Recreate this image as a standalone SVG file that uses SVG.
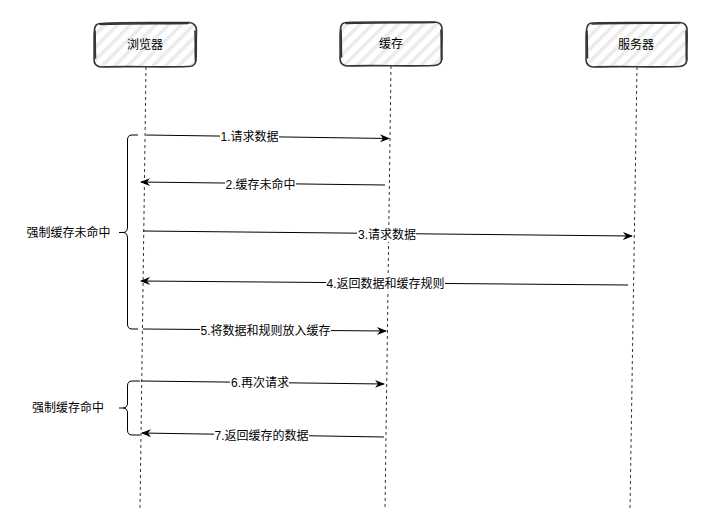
<svg xmlns="http://www.w3.org/2000/svg" width="711" height="510" viewBox="0 0 711 510">
<defs>
<pattern id="hatch" patternUnits="userSpaceOnUse" width="9" height="9" patternTransform="rotate(45)">
<rect width="9" height="9" fill="#ffffff"/>
<rect x="0" y="0" width="3.5" height="9" fill="#ebebeb"/>
</pattern>
<marker id="arr" markerWidth="10" markerHeight="10" refX="9" refY="5" orient="auto" markerUnits="userSpaceOnUse">
<path d="M0,1 L10,5 L0,9 L3,5 Z" fill="#000"/>
</marker>
</defs>
<style>
.box{fill:url(#hatch);stroke:none}
.edge{fill:none;stroke:#333;stroke-width:1.6;stroke-linejoin:round;stroke-linecap:round}
.life{stroke:#333;stroke-width:1;stroke-dasharray:3 3;fill:none}
.msg{stroke:#000;stroke-width:1;fill:none;marker-end:url(#arr)}
.t{font-family:"Liberation Sans","Noto Sans CJK SC",sans-serif;font-size:12px;fill:#000;text-anchor:middle}
.bg{fill:#fff}
.brace{fill:none;stroke:#000;stroke-width:1}
</style>

<g id="lifelines">
<line class="life" x1="146" y1="67" x2="140" y2="510"/>
<line class="life" x1="391" y1="66" x2="385" y2="510"/>
<line class="life" x1="637" y1="67" x2="630" y2="510"/>
</g>

<g id="node-browser">
<rect class="box" x="94" y="23" width="102" height="44" rx="7"/>
<path class="edge" d="M101,23.5 C130,22 165,23 189,22.5 Q196,23 196.5,30 C196,42 196.5,52 196,60 Q195.5,67 188,66.5 C160,67.5 130,66 101,67 Q94,66.5 94,59 C94.5,48 93.5,38 94.5,30 Q95,23 101,23.5 Z"/>
<path class="edge" d="M100,24.5 C135,23.5 160,24 188,23.5 M195,31 C195.5,45 195,55 195.5,61 M95.5,58 C95,46 95.5,38 95,31" stroke-width="1"/>
<text class="t" x="145" y="49">浏览器</text>
</g>

<g id="node-cache">
<rect class="box" x="340" y="22" width="102" height="44" rx="7"/>
<path class="edge" d="M347,22.5 C375,21.5 410,22.5 435,22 Q442,22.5 442,29 C442.5,40 441.5,50 442,58 Q441.5,65.5 434,65.5 C405,66.5 375,65 347,66 Q340,65.5 340,58 C340.5,47 339.5,37 340.5,29 Q341,22 347,22.5 Z"/>
<path class="edge" d="M346,23.5 C380,22.5 410,23 434,22.5 M441,30 C441.5,44 441,54 441.5,60 M341.5,57 C341,45 341.5,37 341,30" stroke-width="1"/>
<text class="t" x="391" y="48">缓存</text>
</g>

<g id="node-server">
<rect class="box" x="586" y="22" width="101" height="45" rx="7"/>
<path class="edge" d="M593,23 C620,22 655,23 680,22.5 Q687,23 687,30 C687.5,41 686.5,51 687,59 Q686.5,66.5 679,66.5 C650,67.5 620,66 593,67 Q586,66.5 586,59 C586.5,48 585.5,38 586.5,30 Q587,22.5 593,23 Z"/>
<path class="edge" d="M592,24 C625,23 655,23.5 679,23 M686,31 C686.5,45 686,55 686.5,61 M587.5,58 C587,46 587.5,38 587,31" stroke-width="1"/>
<text class="t" x="636" y="49">服务器</text>
</g>

<g id="connectors">
<line class="msg" x1="146" y1="135" x2="389" y2="138.5"/>
<line class="msg" x1="385" y1="185" x2="141" y2="182"/>
<line class="msg" x1="143" y1="231" x2="632" y2="236"/>
<line class="msg" x1="628" y1="285" x2="141" y2="281"/>
<line class="msg" x1="143" y1="329" x2="386" y2="331"/>
<line class="msg" x1="141" y1="381" x2="384" y2="384"/>
<line class="msg" x1="384" y1="437" x2="142" y2="433"/>
</g>

<g id="labels">
<rect class="bg" x="220" y="129" width="59" height="15"/>
<text class="t" x="249.5" y="141">1.请求数据</text>
<rect class="bg" x="225" y="177" width="71" height="15"/>
<text class="t" x="260.5" y="189">2.缓存未命中</text>
<rect class="bg" x="357" y="227" width="59" height="15"/>
<text class="t" x="387" y="239">3.请求数据</text>
<rect class="bg" x="326" y="276" width="119" height="15"/>
<text class="t" x="385.5" y="288">4.返回数据和缓存规则</text>
<rect class="bg" x="200" y="323" width="131" height="15"/>
<text class="t" x="265.5" y="335">5.将数据和规则放入缓存</text>
<rect class="bg" x="230" y="375" width="59" height="15"/>
<text class="t" x="260" y="387">6.再次请求</text>
<rect class="bg" x="214" y="428" width="95" height="15"/>
<text class="t" x="261.5" y="440">7.返回缓存的数据</text>
</g>

<g id="brace-miss">
<path class="brace" d="M138,135 H132 Q127.5,135 127.5,140 V227 Q127.5,232.5 123,232.5 H119 M123,232.5 Q127.5,232.5 127.5,238 V324 Q127.5,329 132,329 H138"/>
<text class="t" x="68.5" y="237">强制缓存未命中</text>
</g>

<g id="brace-hit">
<path class="brace" d="M140,381 H132 Q127.5,381 127.5,386 V403 Q127.5,408 123,408 H119 M123,408 Q127.5,408 127.5,413 V430 Q127.5,435 132,435 H140"/>
<text class="t" x="68" y="412">强制缓存命中</text>
</g>
</svg>
